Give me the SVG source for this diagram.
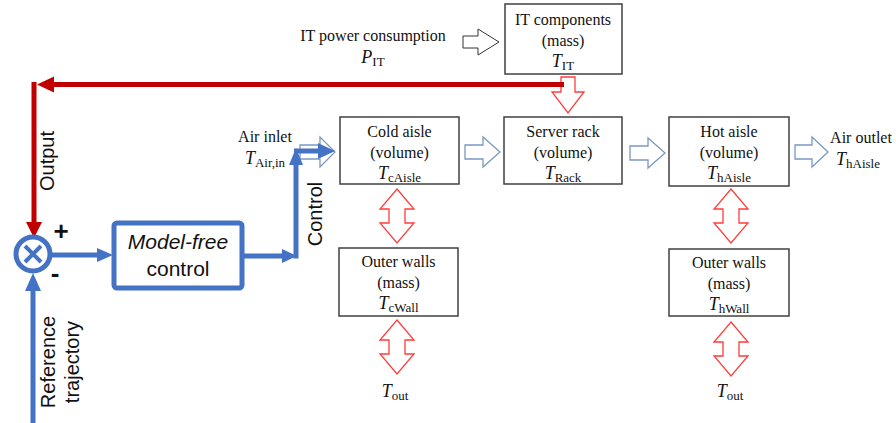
<svg xmlns="http://www.w3.org/2000/svg" width="896" height="423" viewBox="0 0 896 423">
<style>
.box{fill:#fff;stroke:#404040;stroke-width:1.5}
.t{font-family:"Liberation Serif","Times New Roman",serif;font-size:16px;fill:#111;text-anchor:middle}
.i{font-style:italic;font-size:18px}
.sub{font-size:13px;font-style:normal}
.s{font-family:"Liberation Sans",Arial,sans-serif;font-size:20px;fill:#111;text-anchor:middle}
.ha{fill:#fff;stroke:#333;stroke-width:1}
.hb{fill:#fff;stroke:#7a98c2;stroke-width:1.3}
.hr{fill:#fff;stroke:#ff3c3c;stroke-width:1.3}
.bl{stroke:#4472c4;stroke-width:5;fill:none}
.blf{fill:#4472c4}
.rd{stroke:#c00000;stroke-width:5;fill:none}
.rdf{fill:#c00000}
</style>
<g id="connectors">
<path class="ha" d="M463,36 L478,36 L478,29 L499,42 L478,55 L478,48 L463,48 Z"/>
<path class="hb" d="M300,145 L320,145 L320,137 L335,152 L320,167 L320,159 L300,159 Z"/>
<path class="hb" d="M465,145 L483,145 L483,137 L500,152 L483,167 L483,159 L465,159 Z"/>
<path class="hb" d="M630,146 L648,146 L648,138 L665,153 L648,168 L648,160 L630,160 Z"/>
<path class="hb" d="M795,145 L812,145 L812,137 L828,152 L812,167 L812,159 L795,159 Z"/>
<path class="hr" d="M561,77 L575,77 L575,92 L584,92 L568,113 L552,92 L561,92 Z"/>
<path class="hr" d="M397,189 L414,209 L405,209 L405,223 L414,223 L397,243 L380,223 L389,223 L389,209 L380,209 Z"/>
<path class="hr" d="M397,320 L414,340 L405,340 L405,354 L414,354 L397,374 L380,354 L389,354 L389,340 L380,340 Z"/>
<path class="hr" d="M731,189 L748,209 L739,209 L739,223 L748,223 L731,243 L714,223 L723,223 L723,209 L714,209 Z"/>
<path class="hr" d="M731,322 L748,342 L739,342 L739,356 L748,356 L731,376 L714,356 L723,356 L723,342 L714,342 Z"/>
<path class="rd" d="M564,84.5 L50,84.5"/>
<path class="rdf" d="M37,84.5 L54,76.5 L54,92.5 Z"/>
<path class="rd" d="M34,82 L34,224"/>
<path class="rdf" d="M34,238 L26,222 L42,222 Z"/>
<path class="bl" d="M33,423 L33,289"/>
<path class="blf" d="M33,273 L25,291 L41,291 Z"/>
<path class="bl" d="M51,255 L100,255"/>
<path class="blf" d="M113,255 L97,248 L97,262 Z"/>
<path class="bl" d="M242,256 L284,256"/>
<path class="blf" d="M297,256 L282,249 L282,263 Z"/>
<path class="bl" d="M296,258.5 L296,162"/>
<path class="blf" d="M296,148 L289,165 L303,165 Z"/>
<path class="bl" d="M294,151 L320,151"/>
<path class="blf" d="M335,151 L318,143 L318,159 Z"/>
</g>
<g id="sum">
<circle cx="33" cy="254" r="17" fill="#fff" stroke="#4472c4" stroke-width="5"/>
<path d="M25,246 L41,262 M41,246 L25,262" stroke="#4472c4" stroke-width="4"/>
<text x="61" y="240" class="s" style="font-size:26px;font-weight:bold">+</text>
<text x="55" y="282" class="s" style="font-size:26px;font-weight:bold">-</text>
</g>
<g id="controller">
<rect x="114" y="223" width="128" height="65" rx="3" fill="#fff" stroke="#4472c4" stroke-width="5"/>
<text x="178" y="249" class="s" style="font-style:italic;font-size:21px">Model-free</text>
<text x="178" y="276" class="s" style="font-size:21px">control</text>
</g>
<g id="labels">
<text class="s" transform="translate(54,161) rotate(-90)">Output</text>
<text class="s" transform="translate(322,214) rotate(-90)">Control</text>
<text class="s" transform="translate(55,362) rotate(-90)">Reference</text>
<text class="s" transform="translate(79,362) rotate(-90)">trajectory</text>
</g>
<g id="it-power">
<text x="373" y="41" class="t">IT power consumption</text>
<text x="373" y="63" class="t"><tspan class="i">P</tspan><tspan class="sub" dy="3">IT</tspan></text>
</g>
<g id="it-components">
<rect x="505" y="4" width="117" height="70" class="box"/>
<text x="563" y="25" class="t">IT components</text>
<text x="563" y="46" class="t">(mass)</text>
<text x="563" y="67" class="t"><tspan class="i">T</tspan><tspan class="sub" dy="3">IT</tspan></text>
</g>
<g id="air-inlet">
<text x="265" y="142" class="t">Air inlet</text>
<text x="265" y="164" class="t"><tspan class="i">T</tspan><tspan class="sub" dy="3">Air,in</tspan></text>
</g>
<g id="cold-aisle">
<rect x="340" y="117" width="119" height="67" class="box"/>
<text x="399.5" y="137" class="t">Cold aisle</text>
<text x="399.5" y="158" class="t">(volume)</text>
<text x="399.5" y="179" class="t"><tspan class="i">T</tspan><tspan class="sub" dy="3">cAisle</tspan></text>
</g>
<g id="server-rack">
<rect x="504" y="117" width="118" height="67" class="box"/>
<text x="563" y="137" class="t">Server rack</text>
<text x="563" y="158" class="t">(volume)</text>
<text x="563" y="179" class="t"><tspan class="i">T</tspan><tspan class="sub" dy="3">Rack</tspan></text>
</g>
<g id="hot-aisle">
<rect x="669" y="117" width="120" height="69" class="box"/>
<text x="729" y="137" class="t">Hot aisle</text>
<text x="729" y="158" class="t">(volume)</text>
<text x="729" y="179" class="t"><tspan class="i">T</tspan><tspan class="sub" dy="3">hAisle</tspan></text>
</g>
<g id="air-outlet">
<text x="861" y="143" class="t">Air outlet</text>
<text x="858" y="165" class="t"><tspan class="i">T</tspan><tspan class="sub" dy="3">hAisle</tspan></text>
</g>
<g id="outer-walls-cold">
<rect x="339" y="248" width="119" height="68" class="box"/>
<text x="398.5" y="267" class="t">Outer walls</text>
<text x="398.5" y="288" class="t">(mass)</text>
<text x="398.5" y="309" class="t"><tspan class="i">T</tspan><tspan class="sub" dy="3">cWall</tspan></text>
</g>
<g id="outer-walls-hot">
<rect x="669" y="249" width="120" height="67" class="box"/>
<text x="729" y="268" class="t">Outer walls</text>
<text x="729" y="289" class="t">(mass)</text>
<text x="729" y="310" class="t"><tspan class="i">T</tspan><tspan class="sub" dy="3">hWall</tspan></text>
</g>
<g id="tout-cold">
<text x="395" y="397" class="t"><tspan class="i">T</tspan><tspan class="sub" dy="3">out</tspan></text>
</g>
<g id="tout-hot">
<text x="730" y="397" class="t"><tspan class="i">T</tspan><tspan class="sub" dy="3">out</tspan></text>
</g>
</svg>
